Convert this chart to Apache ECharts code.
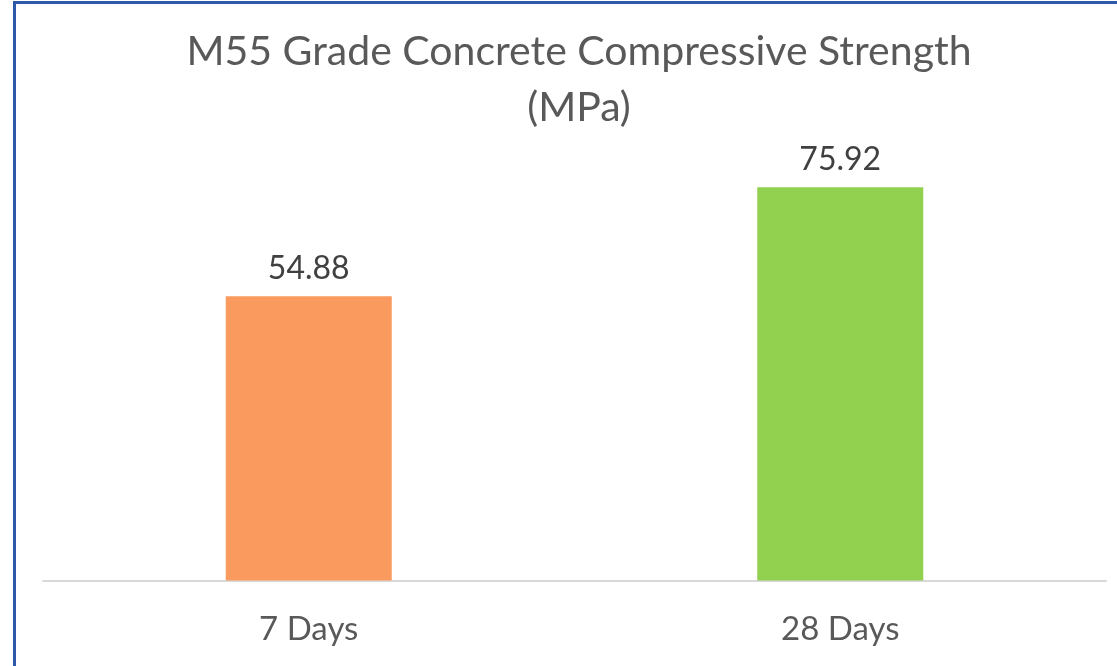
<!DOCTYPE html>
<html lang="en">
<head>
    <meta charset="UTF-8">
    <title>M55 Grade Concrete Compressive Strength</title>
    <script src="https://cdn.jsdelivr.net/npm/echarts@6/dist/echarts.min.js"></script>
    <style>
        html, body { margin: 0; padding: 0; background: #fff; }
        #strengthChart { position: absolute; left: 0; top: 0; width: 1117px; height: 666px; }
        #frame { position: absolute; left: 13px; top: 1px; width: 1110px; height: 680px;
                 border-left: 3px solid #2F58A8; border-top: 3px solid #2F58A8; pointer-events: none; }
    </style>
</head>
<body>
<div id="strengthChart"></div>
<div id="frame"></div>
<script>
    // 数据
    let ageLabels = ['7 Days', '28 Days'];
    let strengthValues = [54.88, 75.92];
    let barColors = ['#FA9A5F', '#92D050'];

    let myChart = echarts.init(document.getElementById('strengthChart'));
    let option = {
        animation: false,
        title: {
            text: 'M55 Grade Concrete Compressive Strength\n(MPa)',
            left: 574,
            top: 19,
            textAlign: 'center',
            textStyle: {
                fontFamily: 'Lato',
                fontSize: 41,
                fontWeight: 'normal',
                color: '#595959',
                lineHeight: 56
            }
        },
        grid: {
            left: 43,
            right: 11,
            top: 166,
            bottom: 85.5
        },
        xAxis: {
            type: 'category',
            data: ageLabels,
            axisLine: {lineStyle: {color: '#D9D9D9', width: 2}},
            axisTick: {show: false},
            axisLabel: {
                fontFamily: 'Lato',
                fontSize: 33,
                color: '#595959',
                margin: 32
            }
        },
        yAxis: {
            type: 'value',
            min: 0,
            max: 80,
            show: false,
            splitLine: {show: false}
        },
        series: [
            {
                type: 'bar',
                barWidth: 166,
                data: strengthValues.map(function (v, i) {
                    return {value: v, itemStyle: {color: barColors[i]}};
                }),
                label: {
                    show: true,
                    position: 'top',
                    distance: 11,
                    fontFamily: 'Lato',
                    fontSize: 32,
                    color: '#404040',
                    formatter: function (p) { return p.value.toFixed(2); }
                }
            }
        ]
    };
    myChart.setOption(option);
</script>
</body>
</html>
